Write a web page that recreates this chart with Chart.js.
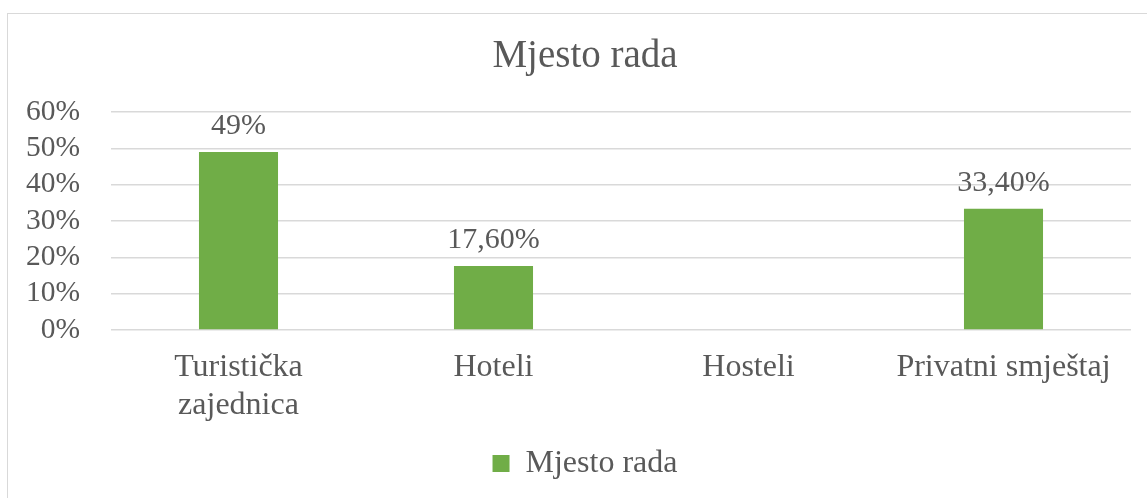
<!DOCTYPE html>
<html>
<head>
<meta charset="utf-8">
<script src="https://cdn.jsdelivr.net/npm/chart.js@4/dist/chart.umd.min.js"></script>
<style>
  html, body { margin: 0; padding: 0; background: #fff; }
  body { width: 1147px; height: 498px; position: relative; overflow: hidden; }
  #frame { position: absolute; left: 7px; top: 13px; width: 1200px; height: 600px; border: 1px solid #d9d9d9; box-sizing: border-box; }
  #wrap { position: absolute; left: 0; top: 0; width: 1147px; height: 498px; }
</style>
</head>
<body>
<div id="frame"></div>
<div id="wrap"><canvas id="c" width="1147" height="498"></canvas></div>
<script>
const categories = [["Turistička", "zajednica"], "Hoteli", "Hosteli", "Privatni smještaj"];
const seriesName = "Mjesto rada";
const values = [49, 17.6, null, 33.4];
const valueLabels = ["49%", "17,60%", "", "33,40%"];
const yTickLabels = ["0%", "10%", "20%", "30%", "40%", "50%", "60%"];
const chartTitle = "Mjesto rada";

const FONT = "'Liberation Serif', 'Times New Roman', serif";
const TEXT = "#595959";
const GREEN = "#70AD47";

const dataLabelPlugin = {
  id: 'dataLabels',
  afterDatasetsDraw(chart) {
    const ctx = chart.ctx;
    const meta = chart.getDatasetMeta(0);
    ctx.save();
    ctx.font = "30px " + FONT;
    ctx.fillStyle = TEXT;
    ctx.textAlign = 'center';
    ctx.textBaseline = 'middle';
    meta.data.forEach((bar, i) => {
      if (values[i] === null || !valueLabels[i]) return;
      ctx.fillText(valueLabels[i], bar.x, bar.y - 26);
    });
    ctx.restore();
  }
};

new Chart(document.getElementById('c'), {
  type: 'bar',
  data: {
    labels: categories,
    datasets: [{
      label: seriesName,
      data: values,
      backgroundColor: GREEN,
      borderWidth: 0,
      categoryPercentage: 1,
      barPercentage: 0.31
    }]
  },
  options: {
    responsive: false,
    animation: false,
    layout: { padding: { left: 39, right: 16, top: 0, bottom: 8.5 } },
    plugins: {
      title: {
        display: true,
        text: chartTitle,
        color: TEXT,
        font: { family: FONT, size: 39, weight: 'normal', lineHeight: 1.2 },
        padding: { top: 33.6, bottom: 31.6 }
      },
      legend: {
        display: true,
        position: 'bottom',
        labels: {
          color: TEXT,
          font: { family: FONT, size: 32 },
          boxWidth: 17,
          boxHeight: 17,
          padding: 10
        }
      },
      tooltip: { enabled: false }
    },
    scales: {
      x: {
        grid: { display: false, drawTicks: false },
        border: { display: false },
        ticks: {
          color: TEXT,
          font: { family: FONT, size: 32, lineHeight: 1.16 },
          padding: 19.5,
          maxRotation: 0,
          autoSkip: false
        },
        afterFit(scale) { scale.height = 107.5; }
      },
      y: {
        min: 0,
        max: 60,
        grid: { color: "#d9d9d9", lineWidth: 1.5, drawTicks: false },
        border: { display: false },
        ticks: {
          stepSize: 10,
          autoSkip: false,
          color: TEXT,
          font: { family: FONT, size: 29.5 },
          padding: 31,
          callback: (v, i) => yTickLabels[i]
        },
        afterFit(scale) {
          scale.width = 72;
          scale._computeLabelArea = () => undefined;
        }
      }
    }
  },
  plugins: [dataLabelPlugin]
});
</script>
</body>
</html>
